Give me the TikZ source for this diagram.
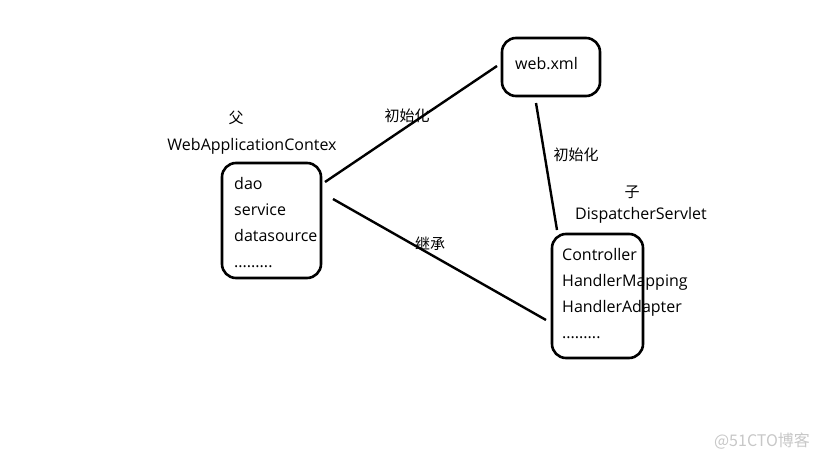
\documentclass[tikz,border=0pt]{standalone}
\usepackage{fontspec}
\setmainfont{Open Sans}
\newfontfamily\cjk{Noto Sans CJK SC}
\begin{document}
\begin{tikzpicture}[x=1pt,y=-1pt,
  box/.style={draw, line width=2.6pt, rounded corners=14pt, inner sep=0pt},
  lbl/.style={font=\fontsize{16}{26}\selectfont, inner sep=0pt},
  zh/.style={font=\cjk\fontsize{15}{15}\selectfont, inner sep=0pt},
  conn/.style={line width=2.4pt}]
\useasboundingbox (0,0) rectangle (819,460);

% boxes
\node [box, minimum width=99pt, minimum height=115pt] (wac) at (271.5,220.5) {};
\node [box, minimum width=98pt, minimum height=58pt] (webxml) at (551,67) {};
\node [box, minimum width=91pt, minimum height=124pt] (ds) at (597.5,296) {};

% box contents
\node [lbl, align=left, anchor=north west] (waclist) at (234,177) {dao\\service\\datasource\\.........};
\node [lbl] (webxmltxt) at (546.5,64) {web.xml};
\node [lbl, align=left, anchor=north west] (dslist) at (562,248) {Controller\\HandlerMapping\\HandlerAdapter\\.........};

% titles
\node [zh] (fu) at (236,118) {父};
\node [lbl] (wactitle) at (252,146) {WebApplicationContex};
\node [zh] (zi) at (632,192) {子};
\node [lbl] (dstitle) at (641,215) {DispatcherServlet};

% connector ends
\coordinate (a1) at (325,182);
\coordinate (a2) at (497,66);
\coordinate (b1) at (333,199);
\coordinate (b2) at (546,320);
\coordinate (c1) at (536,103);
\coordinate (c2) at (557,230);
\draw [conn] (a1) -- (a2);
\draw [conn] (b1) -- (b2);
\draw [conn] (c1) -- (c2);

% connector labels
\node [zh] (init1) at (407,116) {初始化};
\node [zh] (init2) at (576,155) {初始化};
\node [zh] (inherit) at (430,244) {继承};

% watermark
\node [zh, text=black!22, font=\cjk\fontsize{16}{16}\selectfont] (mark) at (762,441) {@51CTO博客};
\end{tikzpicture}
\end{document}
